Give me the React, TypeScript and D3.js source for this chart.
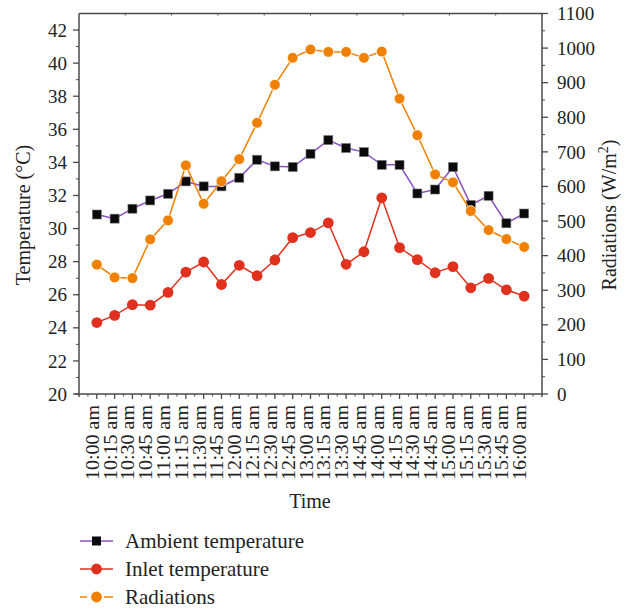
import React from "react";
import * as d3 from "d3";

const times = [
  "10:00 am", "10:15 am", "10:30 am", "10:45 am", "11:00 am", "11:15 am", "11:30 am",
  "11:45 am", "12:00 am", "12:15 am", "12:30 am", "12:45 am", "13:00 am", "13:15 am",
  "13:30 am", "14:45 am", "14:00 am", "14:15 am", "14:30 am", "14:45 am", "15:00 am",
  "15:15 am", "15:30 am", "15:45 am", "16:00 am",
];
const ambient = [30.85, 30.6, 31.2, 31.7, 32.1, 32.85, 32.55, 32.55, 33.07, 34.16, 33.76, 33.72, 34.52, 35.35, 34.87, 34.62, 33.85, 33.85, 32.12, 32.36, 33.72, 31.43, 31.98, 30.32, 30.91];
const inlet = [24.32, 24.75, 25.4, 25.37, 26.14, 27.37, 27.98, 26.62, 27.78, 27.15, 28.1, 29.45, 29.76, 30.34, 27.84, 28.6, 31.86, 28.85, 28.12, 27.33, 27.7, 26.42, 26.99, 26.3, 25.92];
const radiation = [374, 337, 335, 447, 502, 661, 550, 615, 679, 784, 894, 972, 996, 989, 989, 972, 990, 854, 748, 635, 612, 529, 474, 448, 425];
const leftTicks = d3.range(20, 43, 2);
const rightTicks = d3.range(0, 1101, 100);
const legendItems = ["Ambient temperature", "Inlet temperature", "Radiations"];

const W = 633, H = 611;
const L = 79, R = 542, T = 13.5, B = 394;
const AX = "#4a4a4a";
const TXT = "#222";
const FONT = "'Liberation Serif', 'Times New Roman', serif";
const C_AMB_LINE = "#8a52c6";
const C_INLET = "#e0301e";
const C_RAD = "#f08000";

export default function App() {
  const x = d3.scaleLinear().domain([-1, times.length]).range([L, R]);
  const yL = d3.scaleLinear().domain([20, 43]).range([B, T]);
  const yR = d3.scaleLinear().domain([0, 1100]).range([B, T]);
  const idx = d3.range(times.length);

  const lineAmb = d3.line<number>().x((i) => x(i)).y((i) => yL(ambient[i]))(idx) || "";
  const lineIn = d3.line<number>().x((i) => x(i)).y((i) => yL(inlet[i]))(idx) || "";
  const lineRad = d3.line<number>().x((i) => x(i)).y((i) => yR(radiation[i]))(idx) || "";

  const leftMinor = d3.range(21, 43, 2);
  const rightMinor = d3.range(50, 1100, 100);
  const xMinor = d3.range(-0.5, times.length, 1);
  const topTicks = d3.range(1, 10).map((k) => L + (k * (R - L)) / 10);

  const sq = 9;
  const rr = 5.4;

  return (
    <svg width={W} height={H} style={{ position: "absolute", left: 0, top: 0, background: "#fff" }} fontFamily={FONT}>
      {/* frame */}
      <line x1={L} x2={R} y1={T} y2={T} stroke={AX} strokeWidth={1.5} />
      <line x1={L} x2={R} y1={B} y2={B} stroke={AX} strokeWidth={1.5} />
      <line x1={L} x2={L} y1={T} y2={B + 3} stroke={AX} strokeWidth={1.5} />
      <line x1={R} x2={R} y1={T} y2={B + 3} stroke={AX} strokeWidth={1.5} />
      {topTicks.map((t, i) => (
        <line key={"tt" + i} x1={t} x2={t} y1={T} y2={T + 2} stroke={AX} strokeWidth={1} />
      ))}

      {/* left axis */}
      {leftTicks.map((v) => (
        <g key={"l" + v}>
          <line x1={L - 6} x2={L} y1={yL(v)} y2={yL(v)} stroke={AX} strokeWidth={1.3} />
          <text x={L - 12} y={yL(v)} dy="0.35em" textAnchor="end" fontSize={19} fill={TXT}>{v}</text>
        </g>
      ))}
      {leftMinor.map((v) => (
        <line key={"lm" + v} x1={L - 3} x2={L} y1={yL(v)} y2={yL(v)} stroke={AX} strokeWidth={1} />
      ))}

      {/* right axis */}
      {rightTicks.map((v) => (
        <g key={"r" + v}>
          <line x1={R} x2={R + 6} y1={yR(v)} y2={yR(v)} stroke={AX} strokeWidth={1.3} />
          <text x={R + 15} y={yR(v)} dy="0.35em" textAnchor="start" fontSize={19} fill={TXT}>{v}</text>
        </g>
      ))}
      {rightMinor.map((v) => (
        <line key={"rm" + v} x1={R} x2={R + 3} y1={yR(v)} y2={yR(v)} stroke={AX} strokeWidth={1} />
      ))}

      {/* bottom axis */}
      {idx.map((i) => (
        <g key={"x" + i}>
          <line x1={x(i)} x2={x(i)} y1={B} y2={B + 5} stroke={AX} strokeWidth={1.3} />
          <text
            transform={`translate(${x(i) + 2},${B + 11}) rotate(-90)`}
            textAnchor="end"
            fontSize={18}
            fill={TXT}
            textLength={75}
            lengthAdjust="spacingAndGlyphs"
          >
            {times[i]}
          </text>
        </g>
      ))}
      {xMinor.map((v, i) => (
        <line key={"xm" + i} x1={x(v)} x2={x(v)} y1={B} y2={B + 2.5} stroke={AX} strokeWidth={1} />
      ))}
      <line x1={L - 4} x2={L} y1={B} y2={B} stroke={AX} strokeWidth={1.5} />

      {/* axis titles */}
      <text x={310} y={508} textAnchor="middle" fontSize={20} fill={TXT}>Time</text>
      <text transform={`translate(30,215) rotate(-90)`} textAnchor="middle" fontSize={20} fill={TXT}>
        Temperature (°C)
      </text>
      <text transform={`translate(616,215) rotate(-90)`} textAnchor="middle" fontSize={20} fill={TXT}>
        Radiations (W/m<tspan fontSize={14} dy={-8}>2</tspan><tspan dy={8}>)</tspan>
      </text>

      {/* series */}
      <path d={lineAmb} fill="none" stroke={C_AMB_LINE} strokeWidth={1.5} />
      {idx.map((i) => (
        <rect key={"a" + i} x={x(i) - sq / 2} y={yL(ambient[i]) - sq / 2} width={sq} height={sq} fill="#0a0a0a" stroke="#777" strokeWidth={0.6} />
      ))}
      <path d={lineIn} fill="none" stroke={C_INLET} strokeWidth={1.5} />
      {idx.map((i) => (
        <circle key={"n" + i} cx={x(i)} cy={yL(inlet[i])} r={rr} fill={C_INLET} />
      ))}
      <path d={lineRad} fill="none" stroke={C_RAD} strokeWidth={1.5} />
      {idx.map((i) => (
        <circle key={"s" + i} cx={x(i)} cy={yR(radiation[i])} r={rr} fill={C_RAD} stroke="#fff" strokeWidth={0.8} />
      ))}

      {/* legend */}
      {legendItems.map((name, k) => {
        const cy = 541 + k * 28;
        const color = k === 0 ? C_AMB_LINE : k === 1 ? C_INLET : C_RAD;
        return (
          <g key={"lg" + k}>
            {k === 2 ? (
              <>
                <line x1={80} x2={87} y1={cy} y2={cy} stroke={color} strokeWidth={1.5} />
                <line x1={104} x2={113} y1={cy} y2={cy} stroke={color} strokeWidth={1.5} />
              </>
            ) : (
              <line x1={80} x2={113} y1={cy} y2={cy} stroke={color} strokeWidth={1.5} />
            )}
            {k === 0 ? (
              <rect x={96.5 - sq / 2} y={cy - sq / 2} width={sq} height={sq} fill="#0a0a0a" />
            ) : (
              <circle cx={96.5} cy={cy} r={rr} fill={color} />
            )}
            <text x={125} y={cy} dy="0.33em" fontSize={21} fill={TXT}>{name}</text>
          </g>
        );
      })}
    </svg>
  );
}
